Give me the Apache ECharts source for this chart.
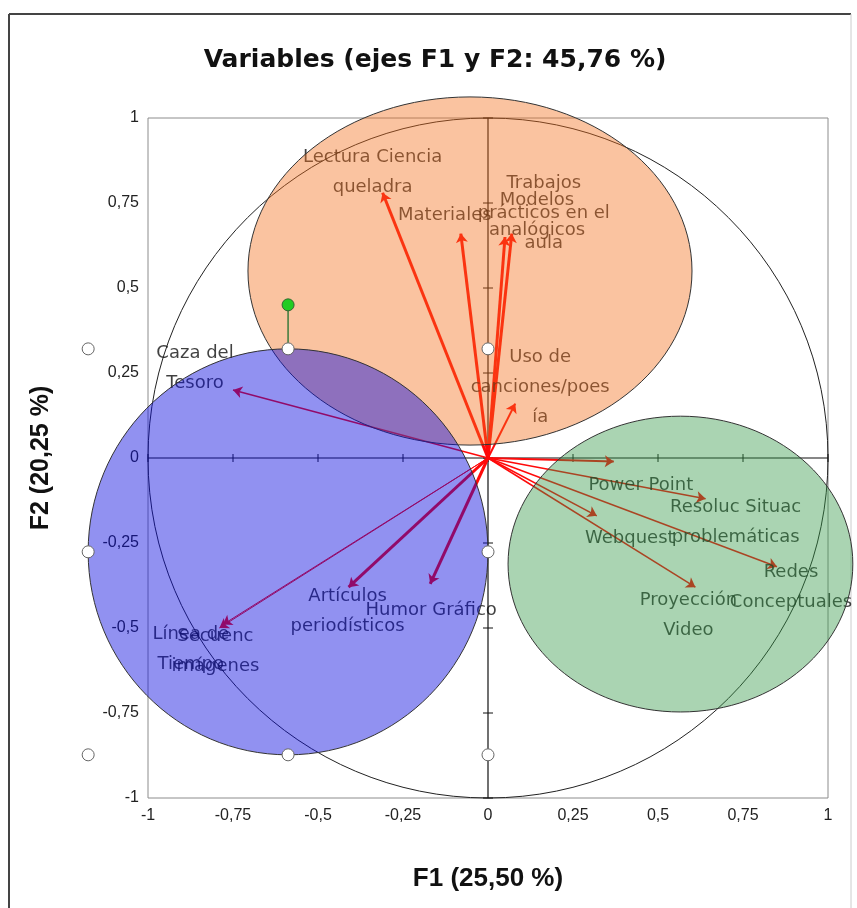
<!DOCTYPE html>
<html><head><meta charset="utf-8">
<script src="https://cdn.jsdelivr.net/npm/echarts@6.0.0/dist/echarts.min.js"></script>
<style>html,body{margin:0;padding:0;background:#fff}#c{width:857px;height:908px}</style>
</head><body><div id="c"></div>
<script>
// ---- data ----
const variables = ["Lectura Ciencia\nqueladra","Materiales","Trabajos\nprácticos en el\naula","Modelos\nanalógicos","Uso de\ncanciones/poes\nía","Caza del\nTesoro","Power Point","Resoluc Situac\nproblemáticas","Webquest","Redes\nConceptuales","Proyección\nVideo","Artículos\nperiodísticos","Humor Gráfico","Línea de\nTiempo","Secuenc\nimágenes"];
const f1 = [-0.31,-0.08,0.07,0.05,0.08,-0.75,0.37,0.64,0.32,0.85,0.61,-0.41,-0.17,-0.78,-0.79];
const f2 = [0.78,0.66,0.66,0.65,0.16,0.20,-0.01,-0.12,-0.17,-0.32,-0.38,-0.38,-0.37,-0.49,-0.50];
const axisTicks = [-1,-0.75,-0.5,-0.25,0,0.25,0.5,0.75,1];
const groupCx = [-0.053,-0.588,0.566];
const groupCy = [0.55,-0.276,-0.312];
const groupRx = [0.653,0.588,0.507];
const groupRy = [0.512,0.597,0.435];
const corrRadius = [1];

// ---- layout / style (not data) ----
const labelOffsets = [[-10,-20],[-16,-18],[32,-20],[32,-22],[25,-16],[-38,-22],[27,24],[30,24],[33,23],[14,21],[-7,28],[-1,24],[1,27],[-32,25],[-4,23]];
const arrowWidths = [3,3,3,3,2,1.5,2,1.5,1.5,1.5,1.5,3,3,1,1];
const groupFills = ['rgba(243,112,29,0.42)','rgba(10,10,225,0.45)','rgba(52,152,71,0.42)'];
const handleGroup = 1;

const fmt = v => String(v).replace('.', ',');

const chart = echarts.init(document.getElementById('c'));
chart.setOption({
  animation: false,
  backgroundColor: '#fff',
  grid: {left: 148, top: 118, width: 680, height: 680, show: true, borderColor: '#8c8c8c', borderWidth: 1, backgroundColor: 'transparent'},
  xAxis: {type: 'value', min: -1, max: 1, interval: 0.25,
    axisLine: {show: false}, axisTick: {show: false}, splitLine: {show: false},
    axisLabel: {formatter: fmt, margin: 10, fontSize: 16, color: '#222', fontFamily: 'Liberation Sans'},
    name: 'F1 (25,50 %)', nameLocation: 'middle', nameGap: 68,
    nameTextStyle: {fontSize: 26, fontWeight: 'bold', color: '#111', fontFamily: 'Liberation Sans'}},
  yAxis: {type: 'value', min: -1, max: 1, interval: 0.25,
    axisLine: {show: false}, axisTick: {show: false}, splitLine: {show: false},
    axisLabel: {formatter: fmt, margin: 9, fontSize: 16, color: '#222', fontFamily: 'Liberation Sans'},
    name: 'F2 (20,25 %)', nameLocation: 'middle', nameGap: 94,
    nameTextStyle: {fontSize: 25, fontWeight: 'bold', color: '#111', fontFamily: 'Liberation Sans'}},
  graphic: [
    {type: 'text', x: 435, y: 60, z: 10, style: {text: 'Variables (ejes F1 y F2: 45,76 %)', textAlign: 'center', textVerticalAlign: 'middle', font: 'bold 25px "DejaVu Sans"', fill: '#111'}},
    {type: 'line', shape: {x1: 9, y1: 14, x2: 851, y2: 14}, style: {stroke: '#444', lineWidth: 2}},
    {type: 'line', shape: {x1: 9, y1: 14, x2: 9, y2: 908}, style: {stroke: '#444', lineWidth: 2}},
    {type: 'line', shape: {x1: 851, y1: 14, x2: 851, y2: 908}, style: {stroke: '#ccc', lineWidth: 1}}
  ],
  series: [
    { // correlation circle
      type: 'custom', z: 1, clip: false, silent: true,
      data: corrRadius.map(r => [0, 0, r]),
      encode: {x: 0, y: 1},
      renderItem: (p, api) => {
        const c = api.coord([api.value(0), api.value(1)]);
        const s = api.size([api.value(2), api.value(2)]);
        return {type: 'ellipse', shape: {cx: c[0], cy: c[1], rx: s[0], ry: s[1]}, style: {fill: 'none', stroke: '#222', lineWidth: 1}};
      }
    },
    { // zero axes with crossing ticks
      type: 'custom', z: 2, clip: false, silent: true,
      data: [[0, 0]], encode: {x: 0, y: 1},
      renderItem: (p, api) => {
        const ch = [];
        const a = api.coord([axisTicks[0], 0]), b = api.coord([axisTicks[axisTicks.length - 1], 0]);
        ch.push({type: 'line', shape: {x1: a[0], y1: a[1], x2: b[0], y2: b[1]}, style: {stroke: '#111', lineWidth: 1.2}});
        const c = api.coord([0, axisTicks[0]]), d = api.coord([0, axisTicks[axisTicks.length - 1]]);
        ch.push({type: 'line', shape: {x1: c[0], y1: c[1], x2: d[0], y2: d[1]}, style: {stroke: '#111', lineWidth: 1.2}});
        axisTicks.forEach(t => {
          const px = api.coord([t, 0]);
          ch.push({type: 'line', shape: {x1: px[0], y1: px[1] - 4, x2: px[0], y2: px[1] + 4}, style: {stroke: '#111', lineWidth: 1}});
          const py = api.coord([0, t]);
          ch.push({type: 'line', shape: {x1: py[0] - 5, y1: py[1], x2: py[0] + 5, y2: py[1]}, style: {stroke: '#111', lineWidth: 1}});
        });
        return {type: 'group', children: ch};
      }
    },
    { // arrows
      type: 'lines', coordinateSystem: 'cartesian2d', z: 3, silent: true,
      symbol: ['none', 'arrow'], symbolSize: 9,
      data: variables.map((n, i) => ({name: n, coords: [[0, 0], [f1[i], f2[i]]], lineStyle: {width: arrowWidths[i]}})),
      lineStyle: {color: '#ff0a0a', opacity: 1}
    },
    { // labels
      type: 'scatter', z: 4, silent: true, symbolSize: 1,
      itemStyle: {color: 'rgba(0,0,0,0)'},
      data: variables.map((n, i) => ({name: n, value: [f1[i], f2[i]], label: {offset: labelOffsets[i]}})),
      label: {show: true, position: 'inside', formatter: '{b}', fontSize: 18, lineHeight: 30, color: '#111', fontFamily: 'DejaVu Sans', align: 'center', verticalAlign: 'middle'}
    },
    { // group ellipses
      type: 'custom', z: 5, clip: false, silent: true,
      data: groupCx.map((cx, i) => [cx, groupCy[i], groupRx[i], groupRy[i]]),
      encode: {x: 0, y: 1},
      renderItem: (p, api) => {
        const c = api.coord([api.value(0), api.value(1)]);
        const s = api.size([api.value(2), api.value(3)]);
        return {type: 'ellipse', shape: {cx: c[0], cy: c[1], rx: s[0], ry: s[1]}, style: {fill: groupFills[p.dataIndex], stroke: '#333', lineWidth: 1}};
      }
    },
    { // selection handles of one shape
      type: 'custom', z: 6, clip: false, silent: true,
      data: [[groupCx[handleGroup], groupCy[handleGroup], groupRx[handleGroup], groupRy[handleGroup]]],
      encode: {x: 0, y: 1},
      renderItem: (p, api) => {
        const c = api.coord([api.value(0), api.value(1)]);
        const s = api.size([api.value(2), api.value(3)]);
        const xs = [c[0] - s[0], c[0], c[0] + s[0]], ys = [c[1] - s[1], c[1], c[1] + s[1]];
        const ch = [];
        ch.push({type: 'line', shape: {x1: xs[1], y1: ys[0], x2: xs[1], y2: ys[0] - 44}, style: {stroke: '#3a7a3a', lineWidth: 1.5}});
        ys.forEach((y, j) => xs.forEach((x, k) => {
          if (j === 1 && k === 1) return;
          ch.push({type: 'circle', shape: {cx: x, cy: y, r: 6}, style: {fill: '#fff', stroke: '#666', lineWidth: 1}});
        }));
        ch.push({type: 'circle', shape: {cx: xs[1], cy: ys[0] - 44, r: 6}, style: {fill: '#22cc22', stroke: '#336633', lineWidth: 1}});
        return {type: 'group', children: ch};
      }
    }
  ]
});
</script></body></html>
